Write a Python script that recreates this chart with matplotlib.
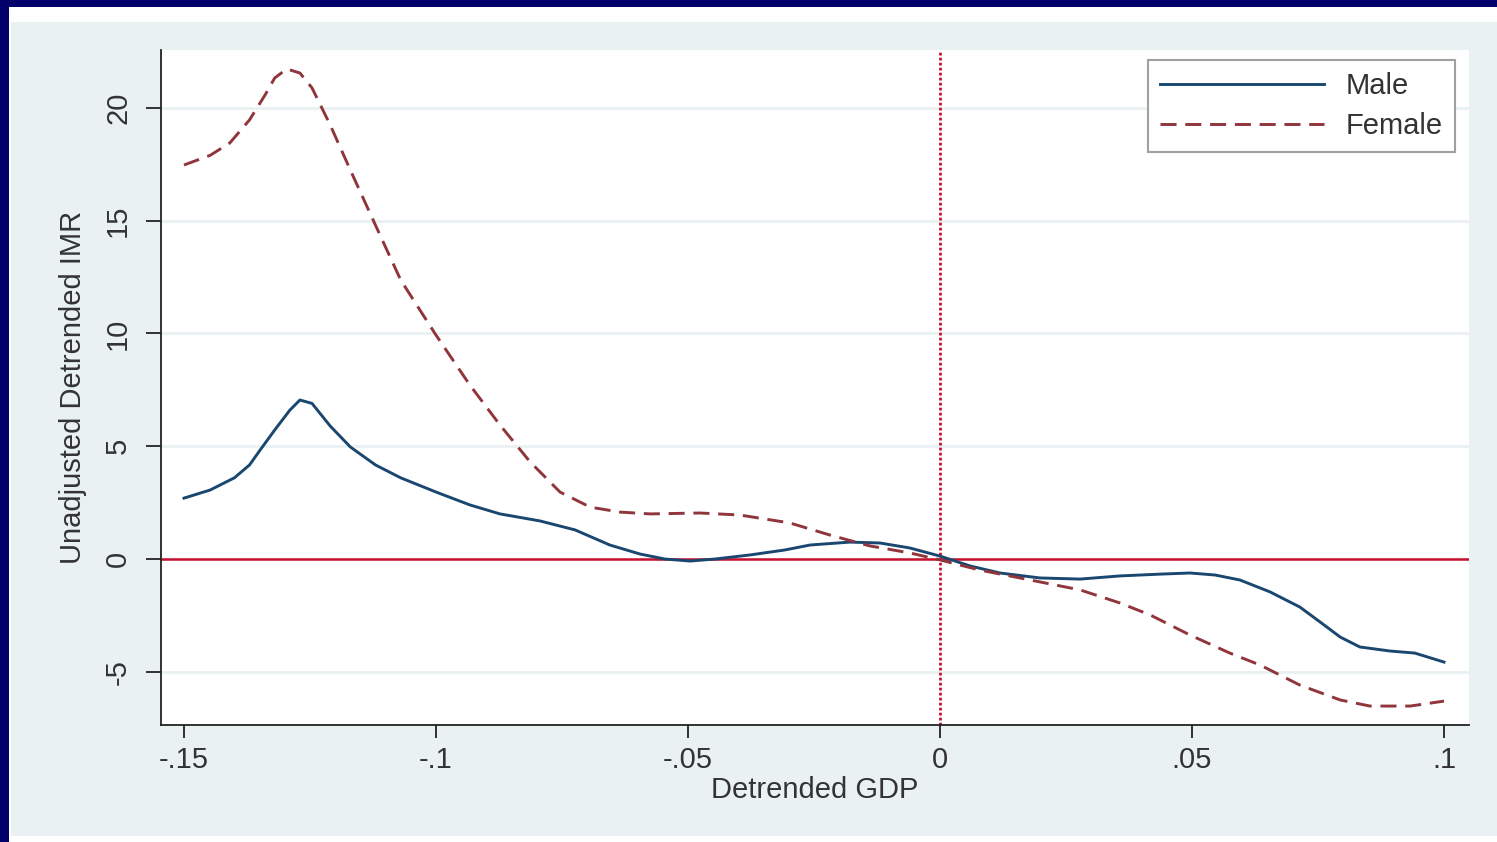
import numpy as np
import matplotlib.pyplot as plt
from matplotlib.patches import Rectangle

plt.rcParams['font.family'] = ['Liberation Sans', 'DejaVu Sans']

# data
gdp_male = [-0.15, -0.1448, -0.140, -0.137, -0.1349, -0.132, -0.129, -0.127, -0.1246,
            -0.121, -0.117, -0.112, -0.107, -0.100, -0.0933, -0.0873, -0.0794, -0.0724,
            -0.0655, -0.0595, -0.0546, -0.0496, -0.0446, -0.0377, -0.0308, -0.0258,
            -0.0179, -0.0119, -0.006, 0.0, 0.006, 0.0119, 0.0198, 0.0278, 0.0357,
            0.0437, 0.0496, 0.0546, 0.0595, 0.0655, 0.0714, 0.0754, 0.0794, 0.0833,
            0.0893, 0.0942, 0.1]
imr_male = [2.70, 3.06, 3.6, 4.17, 4.83, 5.72, 6.6, 7.05, 6.9,
            5.9, 4.97, 4.17, 3.6, 2.97, 2.4, 2.0, 1.69, 1.29,
            0.62, 0.22, 0.0, -0.09, 0.0, 0.18, 0.4, 0.62,
            0.75, 0.71, 0.49, 0.13, -0.31, -0.62, -0.84, -0.89, -0.75,
            -0.67, -0.62, -0.71, -0.93, -1.46, -2.13, -2.79, -3.46, -3.9,
            -4.08, -4.17, -4.57]

gdp_female = [-0.15, -0.1448, -0.1409, -0.137, -0.1339, -0.132, -0.1296, -0.127,
              -0.1246, -0.121, -0.117, -0.112, -0.107, -0.100, -0.0933, -0.0873,
              -0.0813, -0.0754, -0.0694, -0.0635, -0.0575, -0.0476, -0.0397, -0.0298,
              -0.0218, -0.0139, -0.006, 0.0, 0.0079, 0.0179, 0.0278, 0.0357, 0.0417,
              0.0496, 0.0575, 0.0635, 0.0714, 0.0794, 0.0853, 0.0933, 0.1]
imr_female = [17.47, 17.9, 18.45, 19.47, 20.58, 21.33, 21.73, 21.55,
              20.89, 19.25, 17.25, 14.8, 12.37, 9.93, 7.72, 5.94,
              4.3, 2.97, 2.3, 2.08, 2.0, 2.04, 1.95, 1.6,
              1.06, 0.58, 0.27, -0.04, -0.49, -0.93, -1.37, -1.95, -2.48,
              -3.37, -4.17, -4.7, -5.59, -6.25, -6.52, -6.52, -6.3]

xticks = [-0.15, -0.1, -0.05, 0, 0.05, 0.1]
xlabels = ['-.15', '-.1', '-.05', '0', '.05', '.1']
yticks = [-5, 0, 5, 10, 15, 20]

W, H = 1497, 842
fig = plt.figure(figsize=(W / 100, H / 100), dpi=100, facecolor='white')

def px_rect(x0, y0, x1, y1, color):
    fig.add_artist(Rectangle((x0 / W, 1 - y1 / H), (x1 - x0) / W, (y1 - y0) / H,
                             transform=fig.transFigure, facecolor=color,
                             edgecolor='none', zorder=-10))

# frame around the slide
px_rect(0, 0, W, 7, '#02006b')
px_rect(0, 0, 9, H, '#02006b')
px_rect(11, 22, W, 836, '#eaf1f3')

ax = fig.add_axes([161 / W, 1 - 725 / H, (1469 - 161) / W, (725 - 50) / H])
ax.set_facecolor('white')

ax.plot(gdp_male, imr_male, color='#1a476f', lw=2.1, label='Male', zorder=3)
ax.plot(gdp_female, imr_female, color='#90353b', lw=2.1, ls=(0, (5.5, 3)),
        label='Female', zorder=3)

ax.axhline(0, color='#c8102e', lw=1.8, zorder=2)
ax.axvline(0, color='#c8102e', lw=2.0, ls=(0, (1, 0.8)), zorder=2)

ax.set_xlim(-0.15456, 0.10496)
ax.set_ylim(-7.36, 22.57)
ax.set_xticks(xticks)
ax.set_xticklabels(xlabels)
ax.set_yticks(yticks)
ax.set_yticklabels([str(t) for t in yticks], rotation=90, va='center')
ax.grid(axis='y', color='#eaf1f3', lw=2.0, zorder=0)
ax.grid(axis='x', visible=False)

for s in ['top', 'right']:
    ax.spines[s].set_visible(False)
for s in ['left', 'bottom']:
    ax.spines[s].set_linewidth(1.3)
    ax.spines[s].set_color('#222222')

ax.tick_params(axis='both', labelsize=21, colors='#222222', width=1.3,
               labelcolor='#333333')
ax.tick_params(axis='y', length=10.8, pad=10)
ax.tick_params(axis='x', length=9.4, pad=6)

ax.set_xlabel('Detrended GDP', fontsize=21, color='#333333', labelpad=1)
ax.set_ylabel('Unadjusted Detrended IMR', fontsize=21, color='#333333', labelpad=12)

leg = ax.legend(loc='upper right', bbox_to_anchor=((1455 - 161) / 1308, (725 - 60) / 675),
                fontsize=21, frameon=True, fancybox=False, handlelength=5.6,
                handletextpad=0.75, borderpad=0.42, labelspacing=0.4,
                borderaxespad=0, edgecolor='#a0a0a0', framealpha=1)
for t in leg.get_texts():
    t.set_color('#333333')
leg.get_frame().set_linewidth(1.5)

fig.savefig('out.png', dpi=100, facecolor='white')
